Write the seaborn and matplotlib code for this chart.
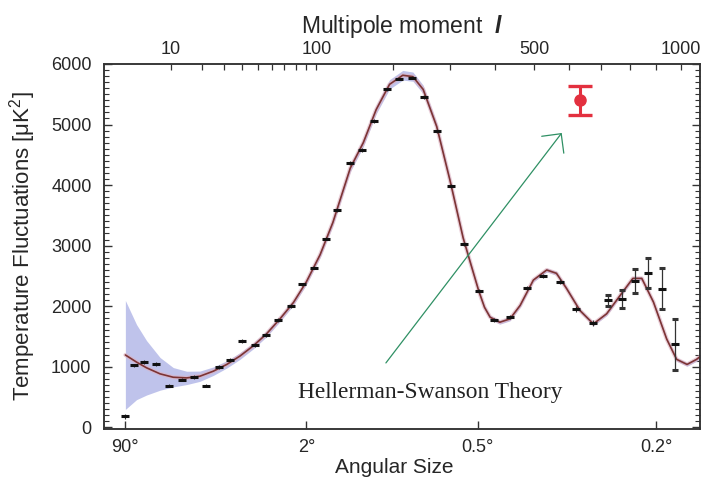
import numpy as np
import pandas as pd
import matplotlib
matplotlib.use("Agg")
import matplotlib.pyplot as plt
import seaborn as sns
from matplotlib.ticker import FixedLocator, NullLocator, MultipleLocator

# ---------------- data ----------------
theory_l = [2, 3.3, 4.8, 7.4, 10.6, 14.6, 19.3, 24.9, 31.4, 38.7, 46.9, 56, 66.5, 78,
            90, 104, 118, 139, 156, 174, 194, 215, 232, 250, 275, 301, 328, 345,
            362, 375, 388, 411, 436, 462, 497, 534, 562, 592, 633, 676, 720, 767,
            812, 845, 889, 941, 981, 1024, 1064, 1084]
theory_d = [1193, 1075, 981, 881, 825, 814, 842, 925, 1037, 1176, 1343, 1538, 1789, 2060,
            2400, 2850, 3380, 4280, 4700, 5246, 5664, 5814, 5791, 5580, 4967, 4075, 3127, 2680,
            2250, 1980, 1817, 1734, 1789, 2012, 2430, 2597, 2542, 2291, 1928, 1706, 1873, 2179,
            2458, 2458, 2068, 1455, 1120, 1037, 1120, 1180]
band_half = [900, 620, 450, 270, 160, 110, 85, 70, 60, 55, 50, 48, 46, 45,
             45, 48, 55, 60, 65, 70, 78, 80, 76, 70, 60, 50, 45, 40,
             36, 34, 32, 32, 32, 32, 32, 32, 32, 32, 30, 30, 30, 30,
             30, 30, 30, 30, 30, 30, 30, 30]

data_l = [2, 3, 4.4, 6.5, 9.5, 13, 17, 21.7, 27.5, 33, 40, 48, 56, 65, 75.5, 86, 98,
          110, 123, 139, 154, 171, 190, 209, 230, 252, 276, 303, 330, 362, 397, 435,
          479, 524, 572, 621, 674, 724, 774, 820, 869, 923, 975]
data_d = [180, 1020, 1075, 1048, 686, 786, 825, 686, 992, 1109, 1427, 1360, 1527, 1772,
          2002, 2358, 2637, 3116, 3590, 4365, 4576, 5062, 5580, 5758, 5775, 5457, 4888,
          3980, 3027, 2253, 1772, 1817, 2302, 2497, 2402, 1956, 1722, 2095, 2124, 2420,
          2542, 2291, 1371]
data_err = [40, 30, 30, 30, 30, 30, 30, 30, 30, 30, 30, 30, 30, 30,
            30, 30, 30, 30, 30, 30, 30, 30, 30, 30, 30, 30, 30,
            30, 30, 30, 35, 35, 35, 40, 40, 50, 55, 85, 150, 195,
            245, 335, 423]

marker_l = [633]
marker_d = [5400]
marker_err = [240]

top_major_l = [10, 100, 500, 1000]
top_major_labels = ["10", "100", "500", "1000"]
top_minor_l = [20, 30, 40, 50, 60, 70, 80, 90, 200, 300, 400, 600, 700, 800, 900]
angle_l = [2, 90, 360, 900]
angle_labels = ["90°", "2°", "0.5°", "0.2°"]
y_major = [0, 1000, 2000, 3000, 4000, 5000, 6000]

# ---------------- styling ----------------
sns.set_style("ticks")
plt.rcParams["font.family"] = ["Liberation Sans", "DejaVu Sans"]
plt.rcParams["mathtext.fontset"] = "custom"
plt.rcParams["mathtext.rm"] = "Liberation Sans"
plt.rcParams["mathtext.it"] = "Liberation Sans:italic:bold"

TXT = "#262626"
POWER = 0.4


def fwd(l):
    return np.power(np.clip(l, 0, None), POWER)


def inv(u):
    return np.power(np.clip(u, 0, None), 1.0 / POWER)


XLIM = (0.761 ** 2.5, 16.338 ** 2.5)
YLIM = (-30, 6000)

fig = plt.figure(figsize=(7.07, 4.84), dpi=100)
ax = fig.add_axes([104 / 707, 55 / 484, 596 / 707, 365 / 484])

theory = pd.DataFrame({"l": theory_l, "D": theory_d, "h": band_half})
points = pd.DataFrame({"l": data_l, "D": data_d, "err": data_err})
small = points[points["err"] < 80]
large = points[points["err"] >= 80]

ax.set_xscale("function", functions=(fwd, inv))

ax.fill_between(theory["l"], theory["D"] - theory["h"], theory["D"] + theory["h"],
                color="#bcc0ea", alpha=0.95, lw=0, zorder=1)
sns.lineplot(data=theory, x="l", y="D", ax=ax, color="#dcb0c0", lw=3.0,
             alpha=0.6, zorder=2, legend=False)
sns.lineplot(data=theory, x="l", y="D", ax=ax, color="#7d3434", lw=1.2,
             zorder=3, legend=False)

ax.errorbar(small["l"], small["D"], yerr=small["err"], fmt="_", ms=5.5, mew=2.2,
            color="#111111", ecolor="#333333", elinewidth=0.8, capsize=0, zorder=4)
ax.errorbar(large["l"], large["D"], yerr=large["err"], fmt="_", ms=5.5, mew=2.2,
            color="#111111", ecolor="#333333", elinewidth=0.9, capsize=2.2,
            capthick=0.9, zorder=4)

ax.errorbar(marker_l, marker_d, yerr=marker_err, fmt="o", ms=8, color="#e3303f",
            ecolor="#e3303f", elinewidth=2.2, capsize=8.5, capthick=2.4, zorder=5)

ax.set_xlim(*XLIM)
ax.set_ylim(*YLIM)

ax.set_xticks(angle_l)
ax.set_xticklabels(angle_labels)
ax.xaxis.set_minor_locator(NullLocator())
ax.set_yticks(y_major)
ax.yaxis.set_minor_locator(MultipleLocator(100))

ax.tick_params(axis="both", which="both", direction="in", colors="#333333",
               labelcolor=TXT, labelsize=13)
ax.tick_params(axis="x", which="major", length=6, width=1.0, pad=7, top=False)
ax.tick_params(axis="y", which="major", length=6, width=1.0, pad=9, right=True)
ax.tick_params(axis="y", which="minor", length=3.5, width=0.8, right=True)

ax.set_xlabel("Angular Size", fontsize=15, color=TXT)
ax.xaxis.set_label_coords(0.487, -0.08)
ax.set_ylabel("Temperature Fluctuations [μK$^2$]", fontsize=16, color=TXT, labelpad=9)

for s in ax.spines.values():
    s.set_color("#333333")
    s.set_linewidth(1.1)
    s.set_visible(True)

ax2 = ax.twiny()
ax2.set_xscale("function", functions=(fwd, inv))
ax2.set_xlim(*XLIM)
ax2.set_xticks(top_major_l)
ax2.set_xticklabels(top_major_labels)
ax2.xaxis.set_minor_locator(FixedLocator(top_minor_l))
ax2.tick_params(axis="x", which="both", direction="in", length=4.5, width=0.9,
                colors="#333333", labelcolor=TXT, labelsize=13, pad=4)
ax2.set_xlabel("Multipole moment  $\\mathit{l}$", fontsize=16.5, color=TXT, labelpad=6)
for s in ax2.spines.values():
    s.set_color("#333333")
    s.set_linewidth(1.1)

ax.annotate("", xy=(0.768, 0.811), xytext=(0.473, 0.181),
            xycoords="axes fraction", textcoords="axes fraction",
            arrowprops=dict(arrowstyle="->,head_length=1.0,head_width=1.0",
                            color="#2f9064", lw=0.9, mutation_scale=10,
                            shrinkA=0, shrinkB=0), zorder=6)

ax.text(0.3255, 0.101, "Hellerman-Swanson Theory", transform=ax.transAxes,
        family=["Liberation Serif", "DejaVu Serif"], fontsize=16.8, color="#222222",
        ha="left", va="center", zorder=6)

fig.savefig("out.png", dpi=100, facecolor="white")
